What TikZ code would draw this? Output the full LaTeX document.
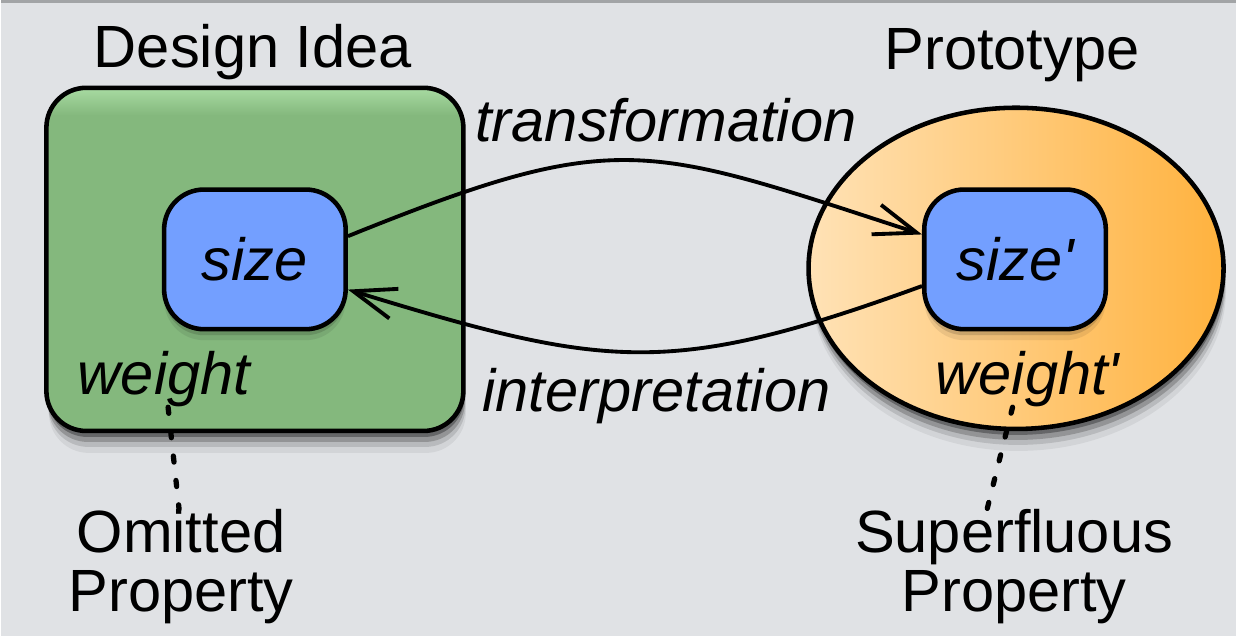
\documentclass[tikz,border=0pt]{standalone}
\usepackage{fontspec}
\setmainfont{Liberation Sans}
\usepackage{tikz}
\usetikzlibrary{arrows.meta}
\usetikzlibrary{shapes.geometric}
\usetikzlibrary{shadows}
\usetikzlibrary{positioning}
\definecolor{bgcolor}{HTML}{E0E2E5}
\definecolor{topgray}{HTML}{A2A4A6}
\definecolor{greentop}{HTML}{A8DBA2}
\definecolor{greenfill}{HTML}{84B87D}
\definecolor{orangeleft}{HTML}{FFE2B6}
\definecolor{orangeright}{HTML}{FFB23E}
\definecolor{propblue}{HTML}{739FFF}
\pgfdeclareverticalshading{greenshade}{100bp}{color(0bp)=(greenfill); color(71bp)=(greenfill); color(75bp)=(greentop); color(100bp)=(greentop)}
\newcommand{\bigfont}{\fontsize{34}{33.5}\selectfont}
\tikzstyle{softshadow}=[drop shadow={shadow xshift=0.02cm, shadow yshift=-0.12cm, opacity=0.3, fill=black},
  drop shadow={shadow xshift=0.03cm, shadow yshift=-0.22cm, opacity=0.2, fill=black},
  drop shadow={shadow xshift=0.04cm, shadow yshift=-0.32cm, opacity=0.12, fill=black},
  drop shadow={shadow xshift=0.05cm, shadow yshift=-0.44cm, opacity=0.06, fill=black}]
\tikzstyle{lightshadow}=[drop shadow={shadow xshift=0cm, shadow yshift=-0.12cm, opacity=0.14, fill=black},
  drop shadow={shadow xshift=0cm, shadow yshift=-0.22cm, opacity=0.08, fill=black}]
\tikzstyle{prop}=[rectangle, rounded corners=0.8cm, draw=black, line width=2.6pt, fill=propblue, minimum width=3.64cm, minimum height=2.8cm, inner sep=0pt, font=\bigfont\itshape, lightshadow]
\tikzstyle{caption}=[inner sep=0pt, align=center, font=\bigfont]
\tikzstyle{conn}=[line width=2.2pt]
\tikzstyle{dotline}=[line width=3pt, line cap=round, dash pattern=on 3.5pt off 10.5pt]
\tikzset{>={Straight Barb[length=0.85cm,width=0.62cm,line width=2.2pt]}}

\begin{document}
\begin{tikzpicture}
        % Background
        \fill [bgcolor] (0,0) rectangle (24.74,-12.76);
        \draw [topgray, line width=0.06cm] (0,-0.03) -- (24.74,-0.03);

        % Design idea
        \node at (5.08,-5.2) [rectangle, rounded corners=0.8cm, draw=black, line width=2.6pt,
          shading=greenshade, minimum width=8.36cm, minimum height=6.88cm, softshadow] (idea) {};
        \node at (5.08,-5.2) [prop] (size) {size};
        \node at (3.26,-7.6) [caption, font=\bigfont\itshape] (weight) {weight};

        % Prototype
        \node at (20.34,-5.38) [ellipse, draw=black, line width=2.6pt,
          left color=orangeleft, right color=orangeright,
          minimum width=8.32cm, minimum height=6.44cm, inner sep=0pt, softshadow] (proto) {};
        \node at (20.32,-5.2) [prop] (sizep) {size\textquotesingle};
        \node at (20.57,-7.6) [caption, font=\bigfont\itshape] (weightp) {weight\textquotesingle};

        % Mappings
        \draw [->, conn] (size.14) to [out=22, in=162, looseness=1.3] (sizep.165);
        \draw [->, conn] (sizep.196) to [out=200, in=-17, looseness=1.2] (size.-18);
        \node at (13.32,-2.4) [caption, font=\bigfont\itshape] (trans) {transformation};
        \node at (13.13,-7.94) [caption, font=\bigfont\itshape] (interp) {interpretation};

        % Text
        \node at (5.04,-1.04) [caption] (ideatitle) {Design Idea};
        \node at (20.26,-1.1) [caption] (prototitle) {Prototype};
        \node at (3.6,-11.36) [caption] (omitted) {Omitted\\Property};
        \node at (20.3,-11.36) [caption] (superfluous) {Superfluous\\Property};

        \draw [dotline] ([xshift=0.08cm]weight.south) -- ([xshift=-0.04cm]omitted.north);
        \draw [dotline] ([xshift=-0.3cm]weightp.south) -- ([xshift=-0.54cm]superfluous.north);
      \end{tikzpicture}
\end{document}
